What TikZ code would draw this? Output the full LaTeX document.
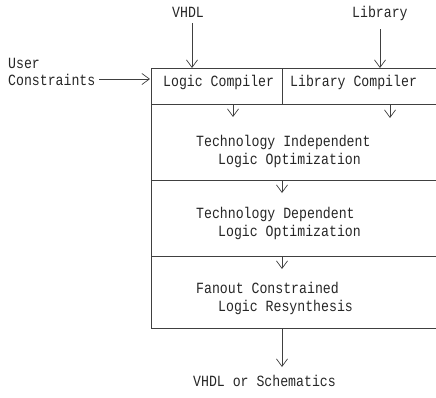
\documentclass[tikz,border=0pt]{standalone}
\usepackage{fontspec}
\setmainfont{Liberation Mono}
\usetikzlibrary{arrows.meta}
\newcommand{\tall}[1]{\scalebox{1}[1.18]{#1}}
\begin{document}
\begin{tikzpicture}[x=1pt,y=-1pt,
  ln/.style={line width=0.55pt,draw=black!75},
  arr/.style={ln,-{Straight Barb[length=7.5pt,width=11pt,line width=0.7pt]}},
  txt/.style={font=\fontsize{13.2}{15}\selectfont,inner sep=0pt,anchor=base west,text=black!85}]
\useasboundingbox (0,0) rectangle (436,397);
% box
\coordinate (tl) at (151,68);
\coordinate (tr) at (436,68);
\coordinate (bl) at (151,328);
\coordinate (br) at (436,328);
\coordinate (div) at (282,68);
\coordinate (divb) at (282,104);
\coordinate (l1a) at (151,104); \coordinate (l1b) at (436,104);
\coordinate (l2a) at (151,180); \coordinate (l2b) at (436,180);
\coordinate (l3a) at (151,256); \coordinate (l3b) at (436,256);
\draw[ln] (tr) -- (tl) -- (bl) -- (br);
\draw[ln] (div) -- (divb);
\draw[ln] (l1a) -- (l1b);
\draw[ln] (l2a) -- (l2b);
\draw[ln] (l3a) -- (l3b);
% texts
\node[txt] (vhdl) at (172,17) {\tall{VHDL}};
\node[txt] (lib) at (352,17) {\tall{Library}};
\node[txt] (user) at (8,68) {\tall{User}};
\node[txt] (cons) at (8,85) {\tall{Constraints}};
\node[txt] (lc) at (163,86) {\tall{Logic Compiler}};
\node[txt] (lbc) at (290,86) {\tall{Library Compiler}};
\node[txt] (ti1) at (196,146) {\tall{Technology Independent}};
\node[txt] (ti2) at (218,164) {\tall{Logic Optimization}};
\node[txt] (td1) at (196,218) {\tall{Technology Dependent}};
\node[txt] (td2) at (218,236) {\tall{Logic Optimization}};
\node[txt] (fc1) at (196,293) {\tall{Fanout Constrained}};
\node[txt] (fc2) at (218,311) {\tall{Logic Resynthesis}};
\node[txt] (out) at (193,386) {\tall{VHDL or Schematics}};
% arrows
\coordinate (a1s) at (192,23); \coordinate (a1e) at (192,68);
\coordinate (a2s) at (380,29); \coordinate (a2e) at (380,68);
\coordinate (a3s) at (99,79); \coordinate (a3e) at (150,79);
\coordinate (a4s) at (233,104); \coordinate (a4e) at (233,117);
\coordinate (a5s) at (390,104); \coordinate (a5e) at (390,118);
\coordinate (a6s) at (282,180); \coordinate (a6e) at (282,193);
\coordinate (a7s) at (282,256); \coordinate (a7e) at (282,269);
\coordinate (a8s) at (282,328); \coordinate (a8e) at (282,367);
\draw[arr] (a1s) -- (a1e);
\draw[arr] (a2s) -- (a2e);
\draw[arr] (a3s) -- (a3e);
\draw[arr] (a4s) -- (a4e);
\draw[arr] (a5s) -- (a5e);
\draw[arr] (a6s) -- (a6e);
\draw[arr] (a7s) -- (a7e);
\draw[arr] (a8s) -- (a8e);
\end{tikzpicture}
\end{document}
